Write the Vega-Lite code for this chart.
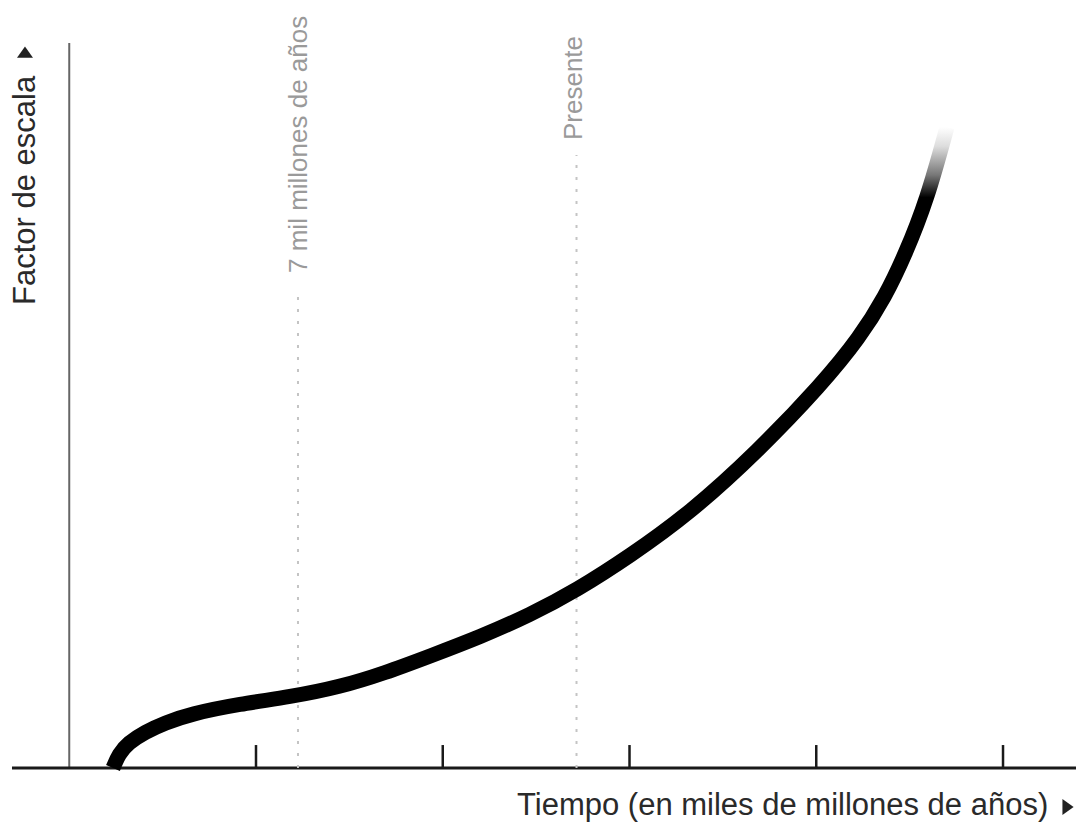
{
  "$schema": "https://vega.github.io/schema/vega-lite/v6.json",
  "width": 1076,
  "height": 824,
  "autosize": {"type": "none"},
  "padding": 0,
  "background": "white",
  "config": {"view": {"stroke": null}},
  "datasets": {
    "curva": [
      {"t": 1.171, "a": 0.0},
      {"t": 1.332, "a": 0.079},
      {"t": 1.573, "a": 0.140},
      {"t": 2.028, "a": 0.202},
      {"t": 2.564, "a": 0.253},
      {"t": 3.233, "a": 0.303},
      {"t": 4.572, "a": 0.360},
      {"t": 5.910, "a": 0.399},
      {"t": 7.249, "a": 0.455},
      {"t": 8.454, "a": 0.534},
      {"t": 9.659, "a": 0.629},
      {"t": 10.997, "a": 0.736},
      {"t": 12.336, "a": 0.860},
      {"t": 13.594, "a": 1.0},
      {"t": 15.013, "a": 1.191},
      {"t": 16.620, "a": 1.433},
      {"t": 18.414, "a": 1.775},
      {"t": 20.154, "a": 2.157},
      {"t": 21.171, "a": 2.421},
      {"t": 21.841, "a": 2.646},
      {"t": 22.376, "a": 2.882},
      {"t": 22.965, "a": 3.191},
      {"t": 23.501, "a": 3.601}
    ],
    "ejeTiempo": [{"t": -1.533, "t2": 26.954, "a": 0}],
    "ejeEscala": [{"t": 0, "a": 0, "a2": 4.073}],
    "marcas": [
      {"t": 5, "a": 0, "a2": 0.129},
      {"t": 10, "a": 0, "a2": 0.129},
      {"t": 15, "a": 0, "a2": 0.129},
      {"t": 20, "a": 0, "a2": 0.129},
      {"t": 25, "a": 0, "a2": 0.129}
    ],
    "referencias": [
      {"t": 6.124, "a": 0, "a2": 2.685},
      {"t": 13.581, "a": 0, "a2": 3.444}
    ]
  },
  "layer": [
    {
      "data": {"name": "ejeEscala"},
      "mark": {"type": "rule", "color": "#666666", "strokeWidth": 2},
      "encoding": {
        "x": {"field": "t", "type": "quantitative", "scale": {"domain": [-1.854, 26.954], "nice": false, "zero": false}, "axis": null},
        "y": {"field": "a", "type": "quantitative", "scale": {"domain": [-0.3146, 4.3146], "nice": false, "zero": false}, "axis": null},
        "y2": {"field": "a2"}
      }
    },
    {
      "data": {"name": "ejeTiempo"},
      "mark": {"type": "rule", "color": "#1a1a1a", "strokeWidth": 3},
      "encoding": {
        "x": {"field": "t", "type": "quantitative", "scale": {"domain": [-1.854, 26.954], "nice": false, "zero": false}, "axis": null},
        "x2": {"field": "t2"},
        "y": {"field": "a", "type": "quantitative", "scale": {"domain": [-0.3146, 4.3146], "nice": false, "zero": false}, "axis": null}
      }
    },
    {
      "data": {"name": "marcas"},
      "mark": {"type": "rule", "color": "#1a1a1a", "strokeWidth": 2.5},
      "encoding": {
        "x": {"field": "t", "type": "quantitative", "scale": {"domain": [-1.854, 26.954], "nice": false, "zero": false}, "axis": null},
        "y": {"field": "a", "type": "quantitative", "scale": {"domain": [-0.3146, 4.3146], "nice": false, "zero": false}, "axis": null},
        "y2": {"field": "a2"}
      }
    },
    {
      "data": {"name": "referencias"},
      "mark": {"type": "rule", "color": "#c4c4c4", "strokeWidth": 2, "strokeDash": [3, 9]},
      "encoding": {
        "x": {"field": "t", "type": "quantitative", "scale": {"domain": [-1.854, 26.954], "nice": false, "zero": false}, "axis": null},
        "y": {"field": "a", "type": "quantitative", "scale": {"domain": [-0.3146, 4.3146], "nice": false, "zero": false}, "axis": null},
        "y2": {"field": "a2"}
      }
    },
    {
      "data": {"name": "curva"},
      "mark": {
        "type": "line",
        "interpolate": "basis",
        "strokeWidth": 15,
        "strokeCap": "butt",
        "color": {
          "gradient": "linear",
          "x1": 0, "y1": 0, "x2": 0, "y2": 1,
          "stops": [
            {"offset": 0, "color": "#ffffff"},
            {"offset": 0.03, "color": "#dddddd"},
            {"offset": 0.075, "color": "#777777"},
            {"offset": 0.11, "color": "#000000"},
            {"offset": 1, "color": "#000000"}
          ]
        }
      },
      "encoding": {
        "x": {"field": "t", "type": "quantitative", "scale": {"domain": [-1.854, 26.954], "nice": false, "zero": false}, "axis": null},
        "y": {"field": "a", "type": "quantitative", "scale": {"domain": [-0.3146, 4.3146], "nice": false, "zero": false}, "axis": null}
      }
    },
    {
      "data": {"values": [{"texto": "7 mil millones de años", "t": 6.365, "a": 2.781}]},
      "mark": {"type": "text", "angle": 270, "align": "left", "baseline": "alphabetic", "font": "Liberation Sans", "fontSize": 26, "color": "#9a9a9a"},
      "encoding": {
        "x": {"field": "t", "type": "quantitative", "scale": {"domain": [-1.854, 26.954], "nice": false, "zero": false}, "axis": null},
        "y": {"field": "a", "type": "quantitative", "scale": {"domain": [-0.3146, 4.3146], "nice": false, "zero": false}, "axis": null},
        "text": {"field": "texto", "type": "nominal"}
      }
    },
    {
      "data": {"values": [{"texto": "Presente", "t": 13.728, "a": 3.528}]},
      "mark": {"type": "text", "angle": 270, "align": "left", "baseline": "alphabetic", "font": "Liberation Sans", "fontSize": 26, "color": "#9a9a9a"},
      "encoding": {
        "x": {"field": "t", "type": "quantitative", "scale": {"domain": [-1.854, 26.954], "nice": false, "zero": false}, "axis": null},
        "y": {"field": "a", "type": "quantitative", "scale": {"domain": [-0.3146, 4.3146], "nice": false, "zero": false}, "axis": null},
        "text": {"field": "texto", "type": "nominal"}
      }
    },
    {
      "data": {"values": [{"texto": "Factor de escala", "t": -0.917, "a": 2.601}]},
      "mark": {"type": "text", "angle": 270, "align": "left", "baseline": "alphabetic", "font": "Liberation Sans", "fontSize": 31, "color": "#2a2a2a"},
      "encoding": {
        "x": {"field": "t", "type": "quantitative", "scale": {"domain": [-1.854, 26.954], "nice": false, "zero": false}, "axis": null},
        "y": {"field": "a", "type": "quantitative", "scale": {"domain": [-0.3146, 4.3146], "nice": false, "zero": false}, "axis": null},
        "text": {"field": "texto", "type": "nominal"}
      }
    },
    {
      "data": {"values": [{"texto": "Tiempo (en miles de millones de años)", "t": 11.988, "a": -0.264}]},
      "mark": {"type": "text", "align": "left", "baseline": "alphabetic", "font": "Liberation Sans", "fontSize": 31, "color": "#2a2a2a"},
      "encoding": {
        "x": {"field": "t", "type": "quantitative", "scale": {"domain": [-1.854, 26.954], "nice": false, "zero": false}, "axis": null},
        "y": {"field": "a", "type": "quantitative", "scale": {"domain": [-0.3146, 4.3146], "nice": false, "zero": false}, "axis": null},
        "text": {"field": "texto", "type": "nominal"}
      }
    },
    {
      "data": {"values": [{"flecha": "tiempo", "t": 26.74, "a": -0.219}]},
      "mark": {"type": "point", "shape": "M-0.7,-1L0.7,0L-0.7,1Z", "size": 256, "filled": true, "color": "#222222", "opacity": 1, "strokeWidth": 0},
      "encoding": {
        "x": {"field": "t", "type": "quantitative", "scale": {"domain": [-1.854, 26.954], "nice": false, "zero": false}, "axis": null},
        "y": {"field": "a", "type": "quantitative", "scale": {"domain": [-0.3146, 4.3146], "nice": false, "zero": false}, "axis": null}
      }
    },
    {
      "data": {"values": [{"flecha": "escala", "t": -1.185, "a": 4.022}]},
      "mark": {"type": "point", "shape": "M-1,0.7L1,0.7L0,-0.7Z", "size": 256, "filled": true, "color": "#222222", "opacity": 1, "strokeWidth": 0},
      "encoding": {
        "x": {"field": "t", "type": "quantitative", "scale": {"domain": [-1.854, 26.954], "nice": false, "zero": false}, "axis": null},
        "y": {"field": "a", "type": "quantitative", "scale": {"domain": [-0.3146, 4.3146], "nice": false, "zero": false}, "axis": null}
      }
    }
  ]
}
